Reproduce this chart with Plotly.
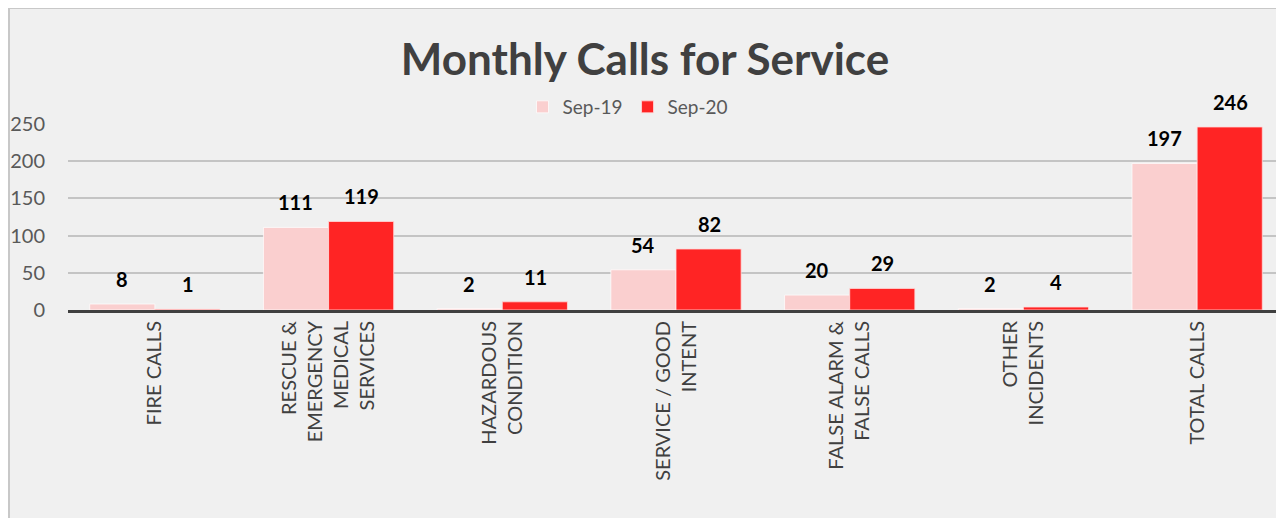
import plotly.graph_objects as go

categories = ["FIRE CALLS", "RESCUE &<br>EMERGENCY<br>MEDICAL<br>SERVICES", "HAZARDOUS<br>CONDITION",
              "SERVICE / GOOD<br>INTENT", "FALSE ALARM &<br>FALSE CALLS", "OTHER<br>INCIDENTS", "TOTAL CALLS"]
sep19 = [8, 111, 2, 54, 20, 2, 197]
sep20 = [1, 119, 11, 82, 29, 4, 246]
series_names = ["Sep-19", "Sep-20"]
y_ticks = [0, 50, 100, 150, 200, 250]

PINK = "#facfcf"
RED = "#ff2424"
BG = "#f0f0f0"

# the page body has an 8px margin, so figure coordinates are screen coordinates minus 8
W, H = 1276, 510
L, T, B = 60, 116, 208
PW, PH = W - L, H - T - B

fig = go.Figure()
fig.add_trace(go.Bar(x=categories, y=sep19, name=series_names[0],
                     marker=dict(color=PINK, line=dict(color="rgba(255,255,255,0.7)", width=1))))
fig.add_trace(go.Bar(x=categories, y=sep20, name=series_names[1],
                     marker=dict(color=RED, line=dict(color="rgba(255,220,220,0.8)", width=1))))

annotations = []
for vals, shift in ((sep19, -33), (sep20, 33)):
    for c, v in zip(categories, vals):
        annotations.append(dict(x=c, y=v, xref="x", yref="y", text=f"<b>{v}</b>", showarrow=False,
                                xshift=shift, yshift=25, font=dict(family="Lato", size=20, color="#000000")))

fig.update_layout(
    width=W, height=H,
    margin=dict(l=L, r=0, t=T, b=B, pad=0, autoexpand=False),
    paper_bgcolor=BG, plot_bgcolor="rgba(0,0,0,0)",
    barmode="group", bargap=0.25, bargroupgap=0.0,
    title=dict(text="<b>Monthly Calls for Service</b>", x=637 / W, xanchor="center",
               y=1 - 52 / H, yanchor="middle",
               font=dict(family="Lato", size=44, color="#404040")),
    legend=dict(orientation="h", x=(620 - L) / PW, xanchor="center", y=(T + PH - 99) / PH, yanchor="middle",
                font=dict(family="Lato", size=19, color="#595959"), bgcolor="rgba(0,0,0,0)",
                itemwidth=30, traceorder="normal"),
    yaxis=dict(range=[0, 250], tickvals=y_ticks, showgrid=True, gridcolor="#c4c4c4", gridwidth=1.5,
               zeroline=False, showline=False, ticklabelstandoff=22, automargin=False,
               tickfont=dict(family="Lato", size=20, color="#595959")),
    xaxis=dict(showline=True, linecolor="#404040", linewidth=3, tickangle=-90, ticks="", automargin=False,
               tickfont=dict(family="Lato", size=20, color="#404040")),
    annotations=annotations,
    shapes=[
        dict(type="line", xref="paper", yref="paper", layer="below",
             x0=-L / PW, x1=1.02, y0=(T + PH) / PH, y1=(T + PH) / PH,
             line=dict(color="#c8c8c8", width=2)),
        dict(type="line", xref="paper", yref="paper", layer="below",
             x0=(1 - L) / PW, x1=(1 - L) / PW, y0=-(B + 5) / PH, y1=(T + PH) / PH,
             line=dict(color="#c8c8c8", width=2)),
    ],
    showlegend=True,
)

fig.write_html("out.html")
